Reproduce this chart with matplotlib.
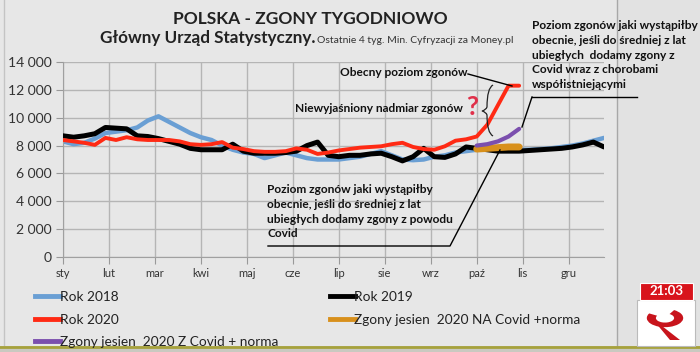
import numpy as np
import matplotlib.pyplot as plt
from matplotlib.lines import Line2D
from matplotlib.patches import Rectangle, Wedge, Polygon, PathPatch
from matplotlib.path import Path

plt.rcParams['font.family'] = ['Lato', 'DejaVu Sans']

W, H = 700, 352

months = ['sty', 'lut', 'mar', 'kwi', 'maj', 'cze', 'lip', 'sie', 'wrz', 'paź', 'lis', 'gru']

weeks = np.arange(1, 53)
rok_2018 = [8300, 8100, 8200, 8500, 8900, 9000, 9100, 9300, 9800, 10100, 9700, 9300, 8900,
            8600, 8400, 8000, 7700, 7500, 7400, 7100, 7300, 7500, 7300, 7100, 7000, 7000,
            7000, 7100, 7200, 7400, 7600, 7300, 7000, 6950, 7000, 7200, 7300, 7500, 7600,
            7700, 7700, 7700, 7700, 7700, 7700, 7750, 7800, 7900, 8000, 8150, 8350, 8550]
rok_2019 = [8700, 8600, 8700, 8850, 9300, 9250, 9200, 8700, 8650, 8500, 8300, 8100, 7800,
            7700, 7700, 7700, 8100, 7600, 7450, 7450, 7450, 7500, 7600, 8000, 8250, 7300,
            7200, 7300, 7300, 7400, 7450, 7200, 6900, 7200, 7800, 7200, 7150, 7400, 7900,
            7800, 7700, 7600, 7600, 7600, 7650, 7700, 7750, 7800, 7900, 8050, 8250, 7900]
weeks_2020 = np.arange(1, 45)
rok_2020 = [8400, 8300, 8200, 8050, 8550, 8400, 8600, 8450, 8400, 8400, 8400, 8300, 8100,
            8050, 8100, 8250, 7850, 7750, 7600, 7550, 7550, 7600, 7800, 7700, 7400, 7500,
            7650, 7750, 7850, 7900, 7950, 8100, 8200, 7900, 7750, 7700, 7950, 8350, 8450,
            8650, 9500, 10900, 12300, 12300]
weeks_jesien = np.arange(40, 45)
na_covid = [7750, 7800, 7850, 7900, 7900]
z_covid = [8000, 8100, 8300, 8650, 9200]

c2018, c2019, c2020 = '#6a9fd4', '#000000', '#ff2a14'
c_na, c_z = '#d8901c', '#7b4fae'

bg = '#e7e7e7'
fig = plt.figure(figsize=(7, 3.52), dpi=100, facecolor=bg)


def fx(x):
    return x / W


def fy(y):
    return 1 - y / H


def fline(xs, ys, **kw):
    fig.add_artist(Line2D([fx(x) for x in xs], [fy(y) for y in ys],
                          transform=fig.transFigure, **kw))


# slide frame
fig.add_artist(Rectangle((fx(617), 0), 1 - fx(617), 1, transform=fig.transFigure,
                         facecolor='#e2e2e2', edgecolor='none', zorder=0))
fline([617, 617], [0, 346], color='#a8a8a8', lw=1)
fline([4, 4], [0, 346], color='#c4c4c4', lw=1)

ax = fig.add_axes([fx(63), fy(257), fx(541), 195 / H])
ax.set_facecolor(bg)
ax.set_xlim(1, 52)
ax.set_ylim(0, 14000)
ax.set_xticks([1 + i * 52 / 12 for i in range(12)])
ax.set_xticklabels(months, fontsize=8, color='#333333')
ax.set_yticks(range(0, 14001, 2000))
ax.set_yticklabels([f'{v:,}'.replace(',', ' ') for v in range(0, 14001, 2000)],
                   fontsize=10, color='#333333')
ax.grid(True, color='#b5b5b5', lw=1)
ax.set_axisbelow(True)
ax.tick_params(axis='both', color='#999999', length=5, pad=3)
for s in ['top', 'right']:
    ax.spines[s].set_visible(False)
for s in ['left', 'bottom']:
    ax.spines[s].set_color('#a0a0a0')

ax.plot(weeks, rok_2018, color=c2018, lw=3.2, zorder=2, solid_capstyle='round')
ax.plot(weeks, rok_2019, color=c2019, lw=3.6, zorder=3, solid_capstyle='round')
ax.plot(weeks_2020, rok_2020, color=c2020, lw=2.8, zorder=4, solid_capstyle='round')
ax.plot(weeks_jesien, na_covid, color=c_na, lw=5, zorder=5, solid_capstyle='round')
ax.plot(weeks_jesien, z_covid, color=c_z, lw=3, zorder=5, solid_capstyle='round')

# titles
fig.text(fx(310), fy(19), 'POLSKA - ZGONY TYGODNIOWO', ha='center', va='center',
         fontsize=12.5, fontweight='bold', color='#222222')
fig.text(fx(100), fy(43), 'Główny Urząd Statystyczny.', ha='left', va='baseline',
         fontsize=12.3, fontweight='bold', color='#222222')
fig.text(fx(317), fy(43), 'Ostatnie 4 tyg. Min. Cyfryzacji za Money.pl', ha='left',
         va='baseline', fontsize=7.5, color='#333333')

# annotations
fig.text(fx(532), fy(20), 'Poziom zgonów jaki wystąpiłby\nobecnie, jeśli do średniej z lat\n'
         'ubiegłych  dodamy zgony z\nCovid wraz z chorobami\nwspółistniejącymi',
         ha='left', va='top', fontsize=8.6, fontweight='bold', color='#111111',
         linespacing=1.42)
fline([532, 637], [97, 97], color='black', lw=1)
fline([532, 522], [97, 127], color='black', lw=1)

fig.text(fx(468), fy(73), 'Obecny poziom zgonów', ha='right', va='center',
         fontsize=8.6, fontweight='bold', color='#111111')
fline([468, 512], [74, 86], color='black', lw=1)

fig.text(fx(463), fy(108), 'Niewyjaśniony nadmiar zgonów', ha='right', va='center',
         fontsize=8.6, fontweight='bold', color='#111111')
fig.text(fx(472), fy(107), '?', ha='center', va='center', fontsize=19,
         fontweight='bold', color='#e0304a')

bx = [493, 487, 487, 486, 482, 486, 487, 487, 493]
by = [85, 88, 107, 110, 111, 112, 115, 133, 136]
verts = [(fx(bx[0]), fy(by[0]))]
codes = [Path.MOVETO]
for i in range(1, len(bx) - 1, 2):
    verts += [(fx(bx[i]), fy(by[i])), (fx(bx[i + 1]), fy(by[i + 1]))]
    codes += [Path.CURVE3, Path.CURVE3]
fig.add_artist(PathPatch(Path(verts, codes), transform=fig.transFigure,
                         facecolor='none', edgecolor='#222222', lw=0.9))

fig.text(fx(267), fy(184), 'Poziom zgonów jaki wystąpiłby\nobecnie, jeśli do średniej z lat\n'
         'ubiegłych dodamy zgony z powodu\nCovid', ha='left', va='top', fontsize=8.6,
         fontweight='bold', color='#111111', linespacing=1.42)
fline([268, 450, 500], [246, 246, 150], color='black', lw=1)

# legend, two columns placed separately
leg_kw = dict(loc='upper left', frameon=False, fontsize=9.8, handlelength=1.8,
              handletextpad=0.0, labelspacing=0.78, borderpad=0, borderaxespad=0,
              labelcolor='#222222')
fig.legend([Line2D([], [], color=c2018, lw=3.5),
            Line2D([], [], color=c2020, lw=3.5),
            Line2D([], [], color=c_z, lw=3.5)],
           ['Rok 2018', 'Rok 2020', 'Zgony jesien  2020 Z Covid + norma'],
           bbox_to_anchor=(fx(35), fy(291)), **leg_kw)
fig.legend([Line2D([], [], color=c2019, lw=3.5),
            Line2D([], [], color=c_na, lw=3.5)],
           ['Rok 2019', 'Zgony jesien  2020 NA Covid +norma'],
           bbox_to_anchor=(fx(330), fy(291)), **leg_kw)

# bottom strip
fig.add_artist(Rectangle((0, 0), 1, fy(346), transform=fig.transFigure,
                         facecolor='#c9c9c0', edgecolor='none', zorder=1))
fline([0, 700], [347, 347], color='#a7a23c', lw=2)

# channel logo
fig.add_artist(Rectangle((fx(637), fy(346)), fx(58), 46 / H, transform=fig.transFigure,
                         facecolor='white', edgecolor='#bbbbbb', lw=0.8, zorder=3))
fig.add_artist(Rectangle((fx(640), fy(300)), fx(53), 17 / H, transform=fig.transFigure,
                         facecolor='#d8141c', edgecolor='white', lw=0.8, zorder=4))
fig.text(fx(666), fy(291), '21:03', ha='center', va='center', fontsize=9.5,
         fontweight='bold', color='white', zorder=5)
r = Wedge((fx(665), fy(318)), 0.026, 150, 420, width=0.013, transform=fig.transFigure,
          facecolor='#c8141c', edgecolor='none', zorder=5)
fig.add_artist(r)
fig.add_artist(Polygon([(fx(655), fy(322)), (fx(662), fy(326)), (fx(680), fy(340)),
                        (fx(670), fy(340))], closed=True, transform=fig.transFigure,
                       facecolor='#c8141c', edgecolor='none', zorder=5))

fig.savefig('out.png', dpi=100, facecolor=bg)
